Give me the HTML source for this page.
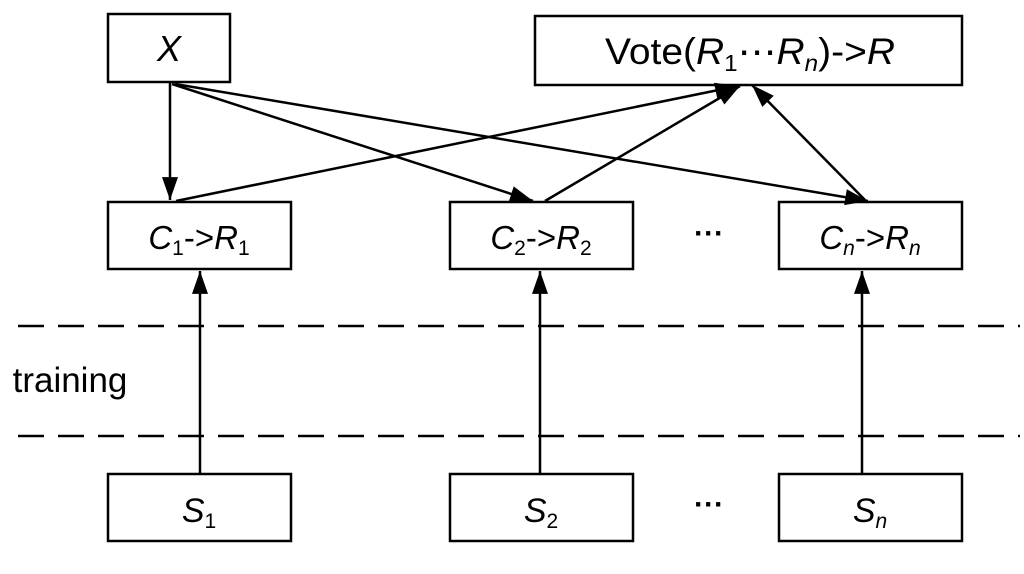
<!DOCTYPE html>
<html><head><style>body{margin:0;background:#fff}</style></head><body>
<svg width="1024" height="569" viewBox="0 0 1024 569" xmlns="http://www.w3.org/2000/svg" font-family="Liberation Sans, sans-serif">
<defs>
<marker id="b" viewBox="0 0 20 14" markerWidth="24" markerHeight="16" refX="20" refY="7" orient="auto" markerUnits="userSpaceOnUse"><path d="M0,0 L20,7 L0,14 Z" fill="#000"/></marker></defs>
<g fill="none" stroke="#000" stroke-width="2.5">
<rect x="108" y="14" width="122" height="68"/>
<rect x="535" y="16" width="427" height="69"/>
<rect x="108" y="202" width="183" height="67"/>
<rect x="450" y="202" width="183" height="67"/>
<rect x="779" y="202" width="183" height="67"/>
<rect x="108" y="474" width="183" height="67"/>
<rect x="450" y="474" width="183" height="67"/>
<rect x="779" y="474" width="183" height="67"/>
<line x1="18" y1="326" x2="1020" y2="326" stroke-dasharray="26,14"/>
<line x1="18" y1="436" x2="1020" y2="436" stroke-dasharray="26,14"/>
</g>
<g stroke="#000" stroke-width="2.5" marker-end="url(#b)">
<line x1="170" y1="83" x2="170" y2="200"/>
<line x1="172" y1="84" x2="533" y2="201"/>
<line x1="175" y1="84" x2="868" y2="201"/>
<line x1="176" y1="201" x2="738" y2="86"/>
<line x1="545" y1="201" x2="740" y2="86"/>
<line x1="865" y1="200" x2="752" y2="85"/>
<line x1="200" y1="474" x2="200" y2="271"/>
<line x1="540" y1="474" x2="540" y2="271"/>
<line x1="862" y1="474" x2="862" y2="271"/>
</g>
<g font-size="30" text-anchor="middle" fill="#000">
<text x="169" y="61" font-size="36" font-style="italic">X</text>
<text x="750" y="64" font-size="37" textLength="290" lengthAdjust="spacingAndGlyphs">Vote(<tspan font-style="italic">R</tspan><tspan font-size="23" dy="7">1</tspan><tspan dy="-7">⋯</tspan><tspan font-style="italic">R</tspan><tspan font-size="23" dy="7" font-style="italic">n</tspan><tspan dy="-7">)-&gt;</tspan><tspan font-style="italic">R</tspan></text>
<text x="199" y="249" font-size="33"><tspan font-style="italic">C</tspan><tspan font-size="21" dy="6">1</tspan><tspan dy="-6">-&gt;</tspan><tspan font-style="italic">R</tspan><tspan font-size="21" dy="6">1</tspan></text>
<text x="541" y="249" font-size="33"><tspan font-style="italic">C</tspan><tspan font-size="21" dy="6">2</tspan><tspan dy="-6">-&gt;</tspan><tspan font-style="italic">R</tspan><tspan font-size="21" dy="6">2</tspan></text>
<text x="870" y="249" font-size="33"><tspan font-style="italic">C</tspan><tspan font-size="21" dy="6" font-style="italic">n</tspan><tspan dy="-6">-&gt;</tspan><tspan font-style="italic">R</tspan><tspan font-size="21" dy="6" font-style="italic">n</tspan></text>
<text x="709" y="243" font-weight="bold">···</text>
<text x="709" y="514" font-weight="bold">···</text>
<text x="199" y="522" font-size="34"><tspan font-style="italic">S</tspan><tspan font-size="21" dy="6">1</tspan></text>
<text x="541" y="522" font-size="34"><tspan font-style="italic">S</tspan><tspan font-size="21" dy="6">2</tspan></text>
<text x="870" y="522" font-size="34"><tspan font-style="italic">S</tspan><tspan font-size="21" dy="6" font-style="italic">n</tspan></text>
<text x="70" y="392" font-size="35">training</text>
</g>
</svg>
</body></html>
